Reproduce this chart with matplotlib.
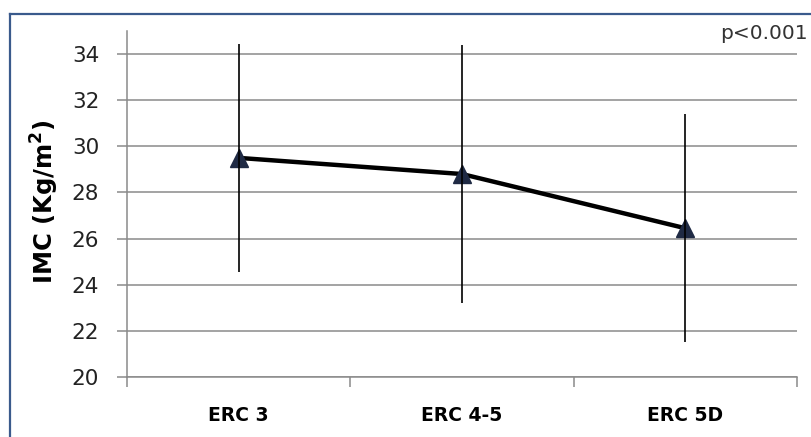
import matplotlib.pyplot as plt
from matplotlib.lines import Line2D

# ==========================================
# Data
# ==========================================
GROUPS = ["ERC 3", "ERC 4-5", "ERC 5D"]
IMC_MEAN = [29.5, 28.8, 26.45]
IMC_SD = [4.95, 5.6, 4.95]
Y_TICKS = [20, 22, 24, 26, 28, 30, 32, 34]

GRID_GRAY = "#8a8a8a"
MARKER_NAVY = "#1f2a44"
FRAME_BLUE = "#3a5a8c"


def main():
    fig = plt.figure(figsize=(8.11, 4.37), dpi=100)
    ax = fig.add_axes([0.1566, 0.1373, 0.8261, 0.7917])

    x = list(range(1, len(GROUPS) + 1))

    # mean line with triangle markers, SD whiskers drawn on top
    ax.plot(x, IMC_MEAN, color="black", linewidth=3.2, marker="^",
            markersize=12.5, markerfacecolor=MARKER_NAVY,
            markeredgecolor=MARKER_NAVY, zorder=3)
    ax.errorbar(x, IMC_MEAN, yerr=IMC_SD, fmt="none", ecolor="black",
                elinewidth=1.2, capsize=0, zorder=4)

    ax.set_xlim(0.5, len(GROUPS) + 0.5)
    ax.set_ylim(20, 35)
    ax.set_yticks(Y_TICKS)
    ax.set_yticklabels([str(t) for t in Y_TICKS])
    ax.yaxis.grid(True, color=GRID_GRAY, linewidth=1.1)
    ax.set_axisbelow(True)

    # category boundaries as major ticks, labels on minor ticks
    ax.set_xticks([i + 0.5 for i in range(len(GROUPS) + 1)])
    ax.set_xticklabels([])
    ax.set_xticks(x, minor=True)
    ax.set_xticklabels(GROUPS, minor=True, fontsize=13.5, fontweight="bold")
    ax.tick_params(axis="x", which="major", length=7, width=1.1,
                   color=GRID_GRAY, direction="out")
    ax.tick_params(axis="x", which="minor", length=0, pad=21)
    ax.tick_params(axis="y", length=7, width=1.1, color=GRID_GRAY,
                   labelsize=15.5, pad=13, labelcolor="#222222")

    for side in ["top", "right"]:
        ax.spines[side].set_visible(False)
    for side in ["left", "bottom"]:
        ax.spines[side].set_color(GRID_GRAY)
        ax.spines[side].set_linewidth(1.1)

    fig.text(0.055, 0.538, "IMC (Kg/m$^{\\mathbf{2}}$)", rotation=90,
             ha="center", va="center", fontsize=17.5, fontweight="bold")
    fig.text(0.996, 0.924, "p<0.001", ha="right", va="center",
             fontsize=14.5, color="#333333")

    # outer frame, open at the right and bottom
    fig.add_artist(Line2D([9.5 / 811, 9.5 / 811], [0, 1 - 14 / 437],
                          transform=fig.transFigure, color=FRAME_BLUE,
                          linewidth=1.6))
    fig.add_artist(Line2D([9.5 / 811, 1], [1 - 14 / 437, 1 - 14 / 437],
                          transform=fig.transFigure, color=FRAME_BLUE,
                          linewidth=1.6))

    fig.savefig("out.png", dpi=100)
    plt.close(fig)


if __name__ == "__main__":
    main()
